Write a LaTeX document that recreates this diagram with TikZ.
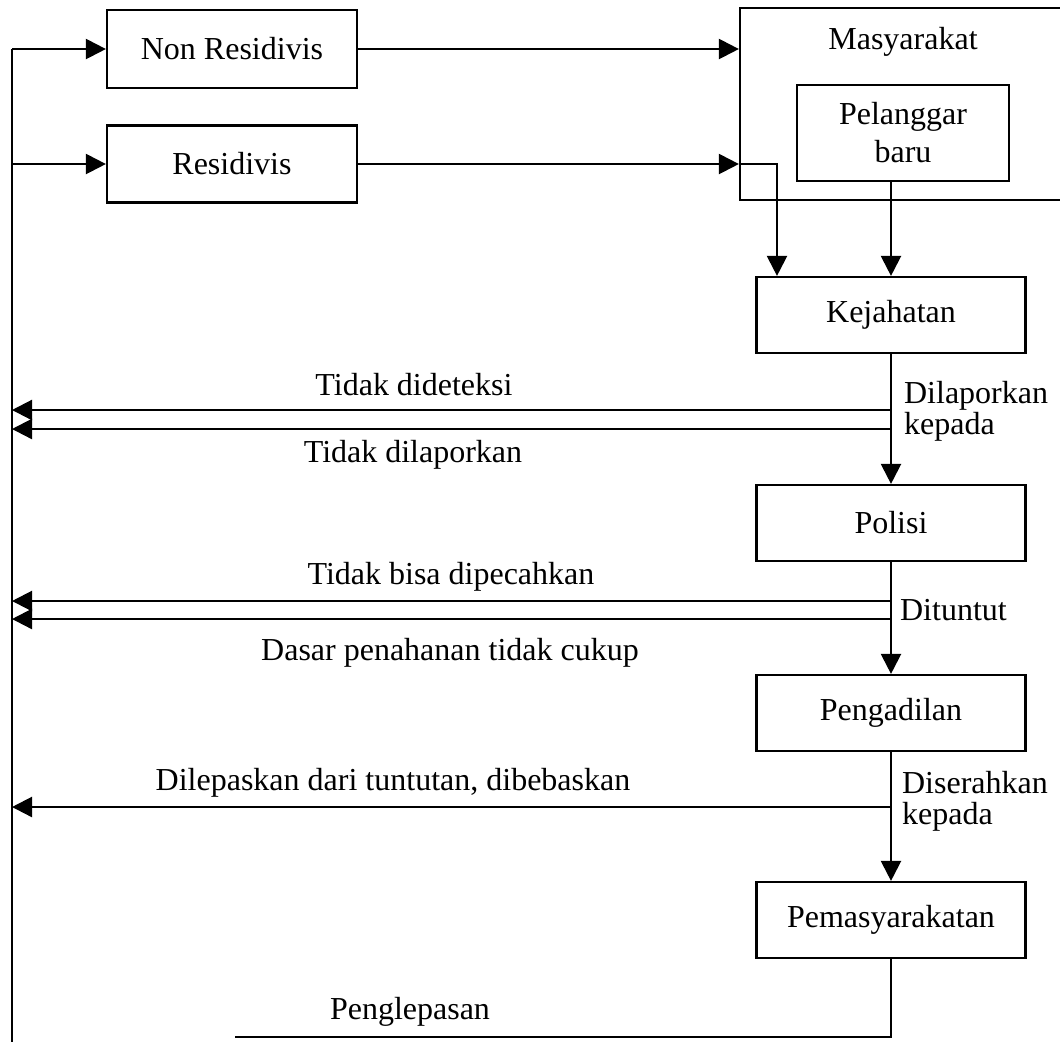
\documentclass[tikz,border=0pt]{standalone}
\usepackage{fontspec}
\setmainfont{Liberation Serif}
\usetikzlibrary{arrows.meta, positioning}

\begin{document}
\begin{tikzpicture}[
      x=0.5pt, y=-0.5pt,
      line width=1.1pt,
      every node/.style={font=\fontsize{16}{18.5}\selectfont},
      box/.style={draw, rectangle, inner sep=0pt, minimum width=134.5pt, minimum height=38pt},
      arr/.style={-{Triangle[length=10pt, width=10pt]}},
      lbl/.style={align=left, anchor=west, inner sep=0pt, font=\fontsize{16}{15.5}\selectfont}
    ]
      \useasboundingbox (0,0) rectangle (1060,1041);

      \node[box, minimum width=125pt, minimum height=39pt] (nonres) at (232,49) {Non Residivis};
      \node[box, minimum width=125pt, minimum height=38.5pt] (res) at (232,164) {Residivis};
      \node[box, minimum width=165pt, minimum height=96pt] (masy) at (905,104) {};
      \node (masytxt) at (903,42) {Masyarakat};
      \node[box, minimum width=106pt, minimum height=48pt, align=center,
            font=\fontsize{16}{19}\selectfont] (pel) at (903,133) {Pelanggar\\baru};
      \node[box] (kej) at (891,315) {Kejahatan};
      \node[box] (pol) at (891,523) {Polisi};
      \node[box] (adil) at (891,713) {Pengadilan};
      \node[box] (pemas) at (891,920) {Pemasyarakatan};

      \coordinate (ltop) at (12,49);
      \coordinate (lbot) at (12,1045);
      \draw (ltop) -- (lbot);
      \draw[arr] (ltop) -- (nonres.west);
      \draw[arr] (ltop |- res.west) -- (res.west);
      \draw[arr] (nonres.east) -- (nonres.east -| masy.west);
      \draw[arr] (res.east) -- (res.east -| masy.west);
      \coordinate (resbend) at (777,164);
      \draw[arr] (res.east -| masy.west) -- (resbend) -- (resbend |- kej.north);
      \draw[arr] (pel.south -| kej.north) -- (kej.north);
      \draw[arr] (kej) -- (pol);
      \draw[arr] (pol) -- (adil);
      \draw[arr] (adil) -- (pemas);

      \foreach \nm/\yy in {dtk/410, dlp/429, pch/601, dsr/619, lps/807}{
        \coordinate (\nm) at (891,\yy);
        \draw[arr] (\nm) -- (\nm -| ltop);
      }

      \coordinate (lpsend) at (235,1037);
      \draw (pemas.south) -- (pemas.south |- lpsend) -- (lpsend);

      \node (tdk) at (414,385) {Tidak dideteksi};
      \node (tlp) at (413,455) {Tidak dilaporkan};
      \node (tbs) at (451,577) {Tidak bisa dipecahkan};
      \node (dpn) at (450,653) {Dasar penahanan tidak cukup};
      \node (dlt) at (393,783) {Dilepaskan dari tuntutan, dibebaskan};
      \node (pgl) at (410,1012) {Penglepasan};
      \node[lbl] (lapor) at (903,411) {Dilaporkan\\kepada};
      \node[lbl] (tuntut) at (899,610) {Dituntut};
      \node[lbl] (serah) at (901,801) {Diserahkan\\kepada};
    \end{tikzpicture}
\end{document}
